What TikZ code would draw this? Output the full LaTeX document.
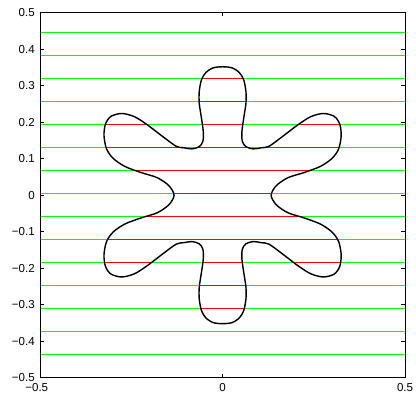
\documentclass[tikz,border=0pt]{standalone}
\usepackage{fontspec}
\setmainfont{Liberation Sans}

\begin{document}
\begin{tikzpicture}[x=10cm, y=10cm, font=\fontsize{9}{10}\selectfont,
    scanline/.style={line width=0.8pt},
    axtick/.style={line width=0.5pt},
    ticklabel/.style={inner sep=0pt}]
    \useasboundingbox (-0.610,-0.550) rectangle (0.530,0.535);

    % Closed curve (flower with six petals)
    \def\flower{plot[smooth cycle] coordinates {
        (0,0.352) (-0.026,0.349) (-0.046,0.336) (-0.058,0.316) (-0.064,0.284)
        (-0.064,0.252) (-0.058,0.212) (-0.053,0.175) (-0.054,0.148) (-0.064,0.133)
        (-0.084,0.127) (-0.106,0.130) (-0.127,0.134) (-0.163,0.160) (-0.205,0.192)
        (-0.241,0.215) (-0.276,0.224) (-0.306,0.216) (-0.321,0.195) (-0.325,0.163)
        (-0.318,0.127) (-0.300,0.101) (-0.268,0.079) (-0.223,0.062) (-0.179,0.048)
        (-0.147,0.026) (-0.133,0)
        (-0.147,-0.026) (-0.179,-0.048) (-0.223,-0.062) (-0.268,-0.079) (-0.300,-0.101)
        (-0.318,-0.127) (-0.325,-0.163) (-0.321,-0.195) (-0.306,-0.216) (-0.276,-0.224)
        (-0.241,-0.215) (-0.205,-0.192) (-0.163,-0.160) (-0.127,-0.134) (-0.106,-0.130)
        (-0.084,-0.127) (-0.064,-0.133) (-0.054,-0.148) (-0.053,-0.175) (-0.058,-0.212)
        (-0.064,-0.252) (-0.064,-0.284) (-0.058,-0.316) (-0.046,-0.336) (-0.026,-0.349)
        (0,-0.352)
        (0.026,-0.349) (0.046,-0.336) (0.058,-0.316) (0.064,-0.284) (0.064,-0.252)
        (0.058,-0.212) (0.053,-0.175) (0.054,-0.148) (0.064,-0.133) (0.084,-0.127)
        (0.106,-0.130) (0.127,-0.134) (0.163,-0.160) (0.205,-0.192) (0.241,-0.215)
        (0.276,-0.224) (0.306,-0.216) (0.321,-0.195) (0.325,-0.163) (0.318,-0.127)
        (0.300,-0.101) (0.268,-0.079) (0.223,-0.062) (0.179,-0.048) (0.147,-0.026)
        (0.133,0)
        (0.147,0.026) (0.179,0.048) (0.223,0.062) (0.268,0.079) (0.300,0.101)
        (0.318,0.127) (0.325,0.163) (0.321,0.195) (0.306,0.216) (0.276,0.224)
        (0.241,0.215) (0.205,0.192) (0.163,0.160) (0.127,0.134) (0.106,0.130)
        (0.084,0.127) (0.064,0.133) (0.054,0.148) (0.053,0.175) (0.058,0.212)
        (0.064,0.252) (0.064,0.284) (0.058,0.316) (0.046,0.336) (0.026,0.349)}}

    % Horizontal lines (outside)
    \foreach \k in {-7,...,7}
        \draw[scanline, green] (-0.5,{0.004+\k*0.063}) -- (0.5,{0.004+\k*0.063});

    % Horizontal lines (inside)
    \begin{scope}
        \clip \flower;
        \foreach \k in {-7,...,7}
            \draw[scanline, red] (-0.5,{0.004+\k*0.063}) -- (0.5,{0.004+\k*0.063});
    \end{scope}

    % Curve
    \draw[line width=1.1pt] \flower;

    % Axes box
    \draw[line width=0.7pt] (-0.5,-0.5) rectangle (0.5,0.5);

    % Ticks on y
    \foreach \y/\t [count=\i] in {-0.5/−0.5, -0.4/−0.4, -0.3/−0.3, -0.2/−0.2, -0.1/−0.1,
            0/0, 0.1/0.1, 0.2/0.2, 0.3/0.3, 0.4/0.4, 0.5/0.5} {
        \draw[axtick] (-0.5,\y) -- (-0.49,\y);
        \draw[axtick] (0.5,\y) -- (0.49,\y);
        \node[ticklabel, anchor=east] (ylab\i) at (-0.514,\y) {\t};
    }

    % Ticks on x
    \foreach \x/\t [count=\i] in {-0.5/\llap{−}0.5, 0/0, 0.5/0.5} {
        \draw[axtick] (\x,-0.5) -- (\x,-0.49);
        \draw[axtick] (\x,0.5) -- (\x,0.49);
        \node[ticklabel, anchor=north] (xlab\i) at (\x,-0.5145) {\t};
    }

\end{tikzpicture}
\end{document}
